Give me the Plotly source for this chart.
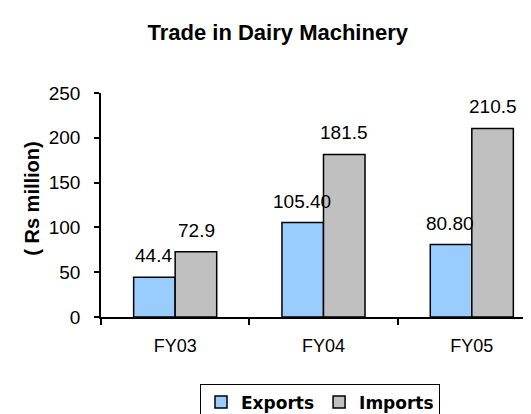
import plotly.graph_objects as go

categories = ["FY03", "FY04", "FY05"]
exports = [44.4, 105.40, 80.80]
imports = [72.9, 181.5, 210.5]
export_labels = ["44.4", "105.40", "80.80"]
import_labels = ["72.9", "181.5", "210.5"]
y_ticks = [0, 50, 100, 150, 200, 250]

fig = go.Figure()
fig.add_trace(go.Bar(name="Exports", x=categories, y=exports,
                     marker=dict(color="#99CCFF", line=dict(color="black", width=1.5))))
fig.add_trace(go.Bar(name="Imports", x=categories, y=imports,
                     marker=dict(color="#C0C0C0", line=dict(color="black", width=1.5))))

label_font = dict(family="Liberation Sans, Arial", size=19, color="black")
annotations = []
for c, v, t in zip(categories, exports, export_labels):
    annotations.append(dict(x=c, y=v, text=t, showarrow=False, xanchor="center",
                            yanchor="bottom", xshift=-21.5, yshift=9, font=label_font))
for c, v, t in zip(categories, imports, import_labels):
    annotations.append(dict(x=c, y=v, text=t, showarrow=False, xanchor="center",
                            yanchor="bottom", xshift=21, yshift=9, font=label_font))
annotations.append(dict(xref="paper", yref="paper", x=-0.1575, y=0.528,
                        text="<b>( Rs million)</b>", textangle=-90, showarrow=False,
                        xanchor="center", yanchor="middle",
                        font=dict(family="Liberation Sans, Arial", size=20, color="black")))

fig.update_layout(
    width=531, height=414,
    margin=dict(l=93, r=0, t=85, b=100),
    paper_bgcolor="white", plot_bgcolor="white",
    barmode="group", bargap=0.44, bargroupgap=0,
    title=dict(text="<b>Trade in Dairy Machinery</b>", xref="container", x=0.508,
               xanchor="center", yref="container", y=0.942, yanchor="middle",
               font=dict(family="Liberation Sans, Arial", size=22, color="black")),
    xaxis=dict(type="category", range=[-0.5, 2.453], tickson="boundaries",
               ticks="outside", ticklen=6, tickcolor="black", tickwidth=1.5,
               showline=True, linecolor="black", linewidth=1.5,
               showgrid=False, ticklabelstandoff=12,
               tickfont=dict(family="Liberation Sans, Arial", size=18, color="black")),
    yaxis=dict(range=[0, 250], tickvals=y_ticks, ticks="outside", ticklen=5,
               tickcolor="black", tickwidth=1.5, showline=True, linecolor="black",
               linewidth=1.5, showgrid=False, zeroline=False, ticklabelstandoff=10,
               tickfont=dict(family="Liberation Sans, Arial", size=19, color="black")),
    legend=dict(orientation="h", x=0.5, xanchor="center", y=-0.297, yanchor="top",
                bordercolor="black", borderwidth=1, itemwidth=30, tracegroupgap=0,
                font=dict(family="DejaVu Sans", size=17, color="black", weight="bold")),
    annotations=annotations,
)

fig.write_html("out.html")
